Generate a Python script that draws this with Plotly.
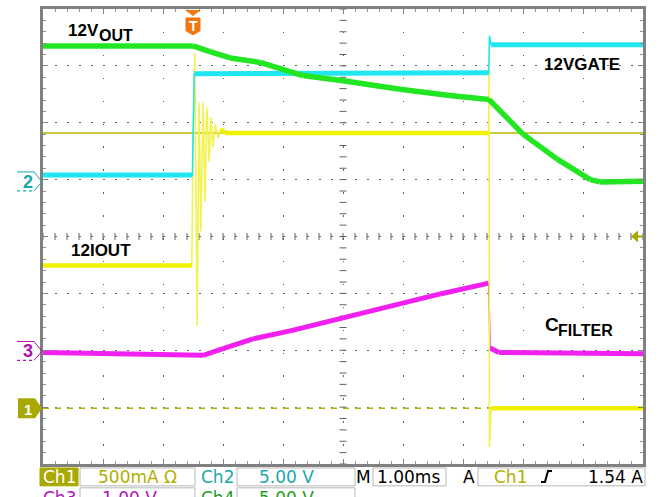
import numpy as np
import plotly.graph_objects as go

# ---------------- data (screen divisions vs time in ms, 1 ms/div) ----------------
t_out = [0, 2.5, 2.78, 3.12, 3.62, 4.33, 5.0, 5.95, 6.78, 7.43, 8.0, 8.57, 9.12, 9.28, 10]
v_out = [3.35, 3.35, 3.25, 3.14, 3.06, 2.83, 2.74, 2.59, 2.48, 2.41, 1.80, 1.36, 1.0, 0.96, 0.97]

t_gate = [0, 2.49, 2.52, 7.43, 7.44, 7.47, 10]
v_gate = [1.08, 1.08, 2.86, 2.88, 3.53, 3.37, 3.37]

t_iout = [0, 2.48, 2.50, 2.53, 2.57, 2.60, 2.63, 2.67, 2.70, 2.73, 2.77, 2.80, 2.83,
          2.87, 2.92, 2.97, 3.03, 7.43, 7.435, 7.44, 7.47, 10]
v_iout = [-0.51, -0.51, 1.66, 3.23, -1.57, 2.36, 0.09, 2.36, 0.61, 2.27, 1.31, 2.10, 1.57,
          1.97, 1.73, 1.89, 1.82, 1.82, 2.95, -3.70, -3.02, -3.02]

t_filt = [0, 2.67, 3.0, 3.5, 4.12, 5.0, 6.62, 7.43, 7.45, 7.6, 10]
v_filt = [-2.04, -2.09, -1.97, -1.80, -1.66, -1.43, -1.01, -0.82, -1.96, -2.04, -2.06]

ch1_ref_level = 1.82      # solid olive line
ch1_ground = -3.02        # dashed olive line / marker 1
ch2_ground = 0.96
ch3_ground = -2.02
trig_level = 0.0
trig_time = 2.5

labels = ["12V", "OUT", "12VGATE", "12IOUT", "C", "FILTER"]
status_row1 = ["Ch1", "500mA Ω", "Ch2", "5.00 V", "M", "1.00ms", "A", "Ch1", "1.54 A"]
status_row2 = ["Ch3", "1.00 V", "Ch4", "5.00 V"]

# ---------------- geometry helpers (pixel -> paper) ----------------
W, H = 659, 497
L, R, T, B = 43, 643, 6, 464


def px(x):
    return (x - L) / (R - L)


def py(y):
    return (B - y) / (B - T)


def path(pts, close=True):
    s = "M " + " L ".join(f"{px(x):.5f},{py(y):.5f}" for x, y in pts)
    return s + (" Z" if close else "")


GREEN = "#22E622"
CYAN = "#20E6F2"
YELLOW = "#F0F000"
YELLOW_THIN = "#F2F250"
MAGENTA = "#F020F0"
OLIVE = "#A8A800"
TEAL = "#1AA8A8"

fig = go.Figure()


def flat_parts(t, v, thr=3.0):
    xs, ys = [], []
    for i in range(len(t) - 1):
        dt = t[i + 1] - t[i]
        if dt > 0 and abs((v[i + 1] - v[i]) / dt) < thr:
            xs += [t[i], t[i + 1], None]
            ys += [v[i], v[i + 1], None]
    return xs, ys


def add_channel(t, v, color, thin_color, w):
    fig.add_trace(go.Scatter(x=t, y=v, mode="lines", line=dict(color=thin_color, width=1.6),
                             hoverinfo="skip", showlegend=False))
    xs, ys = flat_parts(t, v)
    fig.add_trace(go.Scatter(x=xs, y=ys, mode="lines", line=dict(color=color, width=w),
                             hoverinfo="skip", showlegend=False, connectgaps=False))


# center crosshair ticks
hx = np.arange(0, 10.001, 0.2)
fig.add_trace(go.Scatter(x=hx, y=np.zeros_like(hx), mode="markers",
                         marker=dict(symbol="line-ns", size=5, line=dict(color="#606060", width=1)),
                         hoverinfo="skip", showlegend=False))
vy = np.arange(-4, 4.001, 0.2)
fig.add_trace(go.Scatter(x=np.full_like(vy, 5.0), y=vy, mode="markers",
                         marker=dict(symbol="line-ew", size=5, line=dict(color="#606060", width=1)),
                         hoverinfo="skip", showlegend=False))

# reference lines for Ch1
fig.add_trace(go.Scatter(x=[0, 10], y=[ch1_ref_level] * 2, mode="lines",
                         line=dict(color="#B4B400", width=1.5), hoverinfo="skip", showlegend=False))
fig.add_trace(go.Scatter(x=[0, 10], y=[ch1_ground] * 2, mode="lines",
                         line=dict(color="#B0B000", width=1.5, dash="6px,6px"),
                         hoverinfo="skip", showlegend=False))

add_channel(t_filt, v_filt, MAGENTA, MAGENTA, 5)
add_channel(t_iout, v_iout, YELLOW, YELLOW_THIN, 4.5)
add_channel(t_gate, v_gate, CYAN, CYAN, 5)
add_channel(t_out, v_out, GREEN, GREEN, 5.5)

shapes = []
anns = []


def ann(text, x, y, size, color="black", bold=False, xanchor="left", family="Liberation Sans"):
    anns.append(dict(text=f"<b>{text}</b>" if bold else text, xref="paper", yref="paper",
                     x=px(x), y=py(y), xanchor=xanchor, yanchor="middle", showarrow=False,
                     font=dict(size=size, color=color, family=family)))


# trace labels
ann(labels[0], 66, 28, 17, bold=True)
ann(labels[1], 97, 33, 16, bold=True)
ann(labels[2], 542, 62, 17, bold=True)
ann(labels[3], 69, 249, 17, bold=True)
ann(labels[4], 543, 324, 19, bold=True)
ann(labels[5], 556, 330, 16, bold=True)

# trigger T marker
tx = L + trig_time * 60
shapes.append(dict(type="path", xref="paper", yref="paper",
                   path=path([(tx - 8, 7), (tx + 8, 7), (tx, 13)]),
                   fillcolor="#F07810", line=dict(width=0)))
shapes.append(dict(type="path", xref="paper", yref="paper",
                   path=path([(tx - 7, 15), (tx + 7, 15), (tx + 7, 28), (tx, 32), (tx - 7, 28)]),
                   fillcolor="#F07810", line=dict(color="#F07810", width=1)))
ann("T", tx, 23, 14, color="white", bold=True, xanchor="center")

# trigger level arrow on right
ty = 235 - trig_level * 57.25
shapes.append(dict(type="path", xref="paper", yref="paper",
                   path=path([(631, ty), (638, ty - 6), (638, ty + 6)]),
                   fillcolor=OLIVE, line=dict(width=0)))
shapes.append(dict(type="line", xref="paper", yref="paper", x0=px(637), x1=px(643),
                   y0=py(ty), y1=py(ty), line=dict(color=OLIVE, width=2)))


# channel ground markers
def outline_marker(yc, color, txt):
    shapes.append(dict(type="path", xref="paper", yref="paper",
                       path=path([(17, yc - 10), (34, yc - 10), (42, yc), (34, yc + 9)], close=False),
                       line=dict(color=color, width=1)))
    shapes.append(dict(type="line", xref="paper", yref="paper", x0=px(17), x1=px(34),
                       y0=py(yc + 9), y1=py(yc + 9), line=dict(color=color, width=1.2, dash="dot")))
    ann(txt, 28, yc, 18, color=color, bold=True, xanchor="center")


outline_marker(235 - ch2_ground * 57.25, TEAL, "2")
outline_marker(235 - ch3_ground * 57.25, "#B010B0", "3")
g1 = 235 - ch1_ground * 57.25
shapes.append(dict(type="path", xref="paper", yref="paper",
                   path=path([(18, g1 - 10), (35, g1 - 10), (42, g1), (35, g1 + 10), (18, g1 + 10)]),
                   fillcolor=OLIVE, line=dict(width=0)))
ann("1", 28, g1 + 1, 15, color="white", bold=True, xanchor="center")

# status bar
BOX = "#B8B8B8"


def box(x0, y0, x1, y1, fill="white", lc=BOX):
    shapes.append(dict(type="rect", xref="paper", yref="paper", x0=px(x0), x1=px(x1),
                       y0=py(y1), y1=py(y0), fillcolor=fill, line=dict(color=lc, width=1)))


box(40, 468, 78, 486, fill=OLIVE, lc=OLIVE)
box(80, 468, 195, 486)
box(237, 468, 355, 486)
box(373, 468, 446, 486)
box(478, 468, 645, 486)
box(80, 488, 195, 520)
box(237, 488, 355, 520)

SF = "DejaVu Sans"
r1 = 477
ann(status_row1[0], 59, r1, 17, color="white", xanchor="center", family=SF)
ann(status_row1[1], 96, r1, 17, color="#B0B000", family=SF)
ann(status_row1[2], 217, r1, 17, color=TEAL, xanchor="center", family=SF)
ann(status_row1[3], 257, r1, 17, color=TEAL, family=SF)
ann(status_row1[4], 363, r1, 17, color="black", xanchor="center", family=SF)
ann(status_row1[5], 375, r1, 17, color="black", family=SF)
ann(status_row1[6], 469, r1, 17, color="black", xanchor="center", family=SF)
ann(status_row1[7], 492, r1, 17, color="#B0B000", family=SF)
ann(status_row1[8], 645, r1, 17, color="black", xanchor="right", family=SF)
shapes.append(dict(type="path", xref="paper", yref="paper",
                   path=path([(541, 482), (545, 482), (548, 471), (552, 471)], close=False),
                   line=dict(color="black", width=2)))
r2 = 498
ann(status_row2[0], 59, r2, 17, color="#B010C0", xanchor="center", family=SF)
ann(status_row2[1], 100, r2, 17, color="#B010C0", family=SF)
ann(status_row2[2], 217, r2, 17, color="#20A020", xanchor="center", family=SF)
ann(status_row2[3], 257, r2, 17, color="#20A020", family=SF)

fig.update_layout(
    width=W, height=H,
    margin=dict(l=L, r=W - R, t=T, b=H - B),
    paper_bgcolor="white", plot_bgcolor="white",
    showlegend=False,
    shapes=shapes, annotations=anns,
    font=dict(family="Liberation Sans"),
)
fig.update_xaxes(range=[0, 10], dtick=1, showticklabels=False, zeroline=False,
                 showgrid=True, gridcolor="#606060", gridwidth=1, griddash="1.5px,21.4px",
                 showline=True, linecolor="#808080", linewidth=3, mirror="ticks",
                 ticks="inside", ticklen=5, tickcolor="#808080",
                 minor=dict(dtick=0.2, ticks="inside", ticklen=3, tickcolor="#909090", showgrid=False))
fig.update_yaxes(range=[-4, 4], dtick=1, showticklabels=False, zeroline=False,
                 showgrid=True, gridcolor="#606060", gridwidth=1, griddash="1.5px,10.5px",
                 showline=True, linecolor="#808080", linewidth=3, mirror="ticks",
                 ticks="inside", ticklen=5, tickcolor="#808080",
                 minor=dict(dtick=0.2, ticks="inside", ticklen=3, tickcolor="#909090", showgrid=False))

fig.write_html("out.html", config={"displayModeBar": False, "staticPlot": True},
               post_script="document.body.style.margin='0';document.body.style.overflow='hidden';")
